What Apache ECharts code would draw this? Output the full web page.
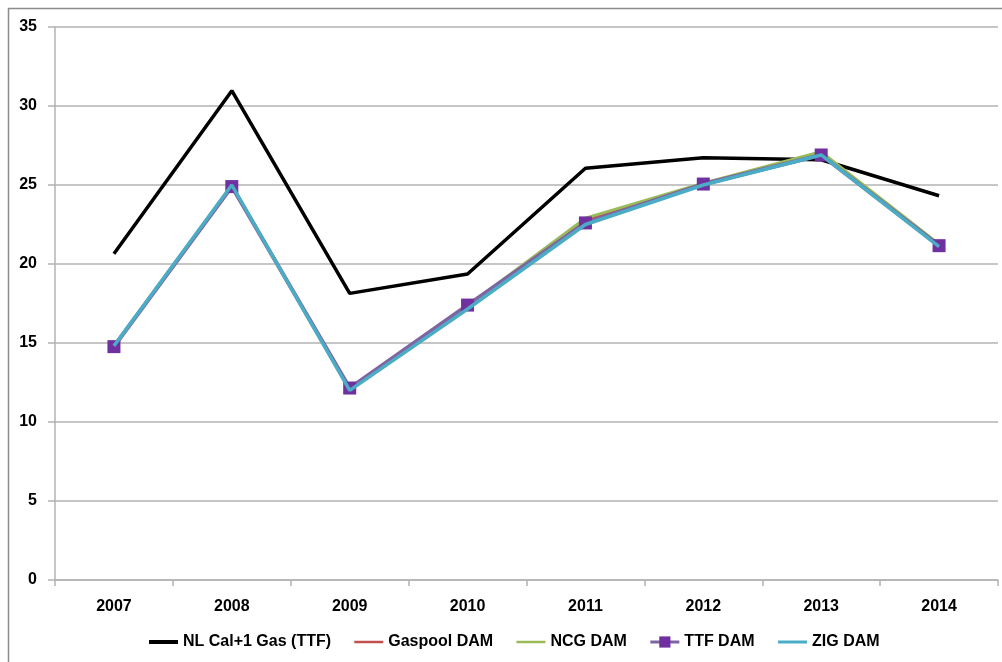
<!DOCTYPE html>
<html>
<head>
<meta charset="utf-8">
<style>
  html, body { margin: 0; padding: 0; background: #ffffff; }
  #chart { width: 1002px; height: 662px; }
</style>
<script src="https://cdn.jsdelivr.net/npm/echarts@6/dist/echarts.min.js"></script>
</head>
<body>
<div id="chart"></div>
<script>
// Annual gas prices, EUR/MWh
const years = ['2007', '2008', '2009', '2010', '2011', '2012', '2013', '2014'];
const nlCal1Gas = [20.65, 30.97, 18.14, 19.37, 26.06, 26.72, 26.6, 24.32];
const gaspoolDam = [14.8, 24.95, 12.1, 17.3, 22.8, 25.05, 27.0, 21.2];
const ncgDam = [14.8, 24.95, 12.1, 17.35, 22.9, 25.12, 27.1, 21.25];
const ttfDam = [14.77, 24.9, 12.15, 17.4, 22.6, 25.06, 26.9, 21.16];
const zigDam = [14.82, 25.0, 12.0, 17.15, 22.5, 25.0, 26.9, 21.1];
const yTicks = { min: 0, max: 35, interval: 5 };

const font = 'Liberation Sans, Arial, sans-serif';
const gridColor = '#b3b3b3';

const lineSeries = (name, data, color, width, extra) => Object.assign({
  name: name,
  type: 'line',
  data: data,
  symbol: 'none',
  lineStyle: { color: color, width: width },
  itemStyle: { color: color },
  z: 2
}, extra || {});

// legend entry drawn as a plain line (no marker)
const lineOnly = (name, color, width) => ({
  name: name,
  itemStyle: { color: 'transparent', borderWidth: 0 },
  lineStyle: { color: color, width: width }
});

const chart = echarts.init(document.getElementById('chart'));
chart.setOption({
  animation: false,
  backgroundColor: '#ffffff',
  textStyle: { fontFamily: font },
  graphic: [{
    type: 'polyline',
    shape: { points: [[8.5, 662], [8.5, 8.5], [1002, 8.5]] },
    style: { stroke: '#8c8c8c', lineWidth: 1.5, fill: null },
    silent: true
  }],
  grid: { left: 55, right: 4, top: 27, bottom: 82 },
  xAxis: {
    type: 'category',
    data: years,
    boundaryGap: true,
    axisLine: { lineStyle: { color: gridColor, width: 1.5 } },
    axisTick: { show: true, length: 6, alignWithLabel: false, lineStyle: { color: gridColor, width: 1.5 } },
    axisLabel: { color: '#000', fontWeight: 'bold', fontSize: 16, margin: 19, fontFamily: font },
    splitLine: { show: false }
  },
  yAxis: {
    type: 'value',
    min: yTicks.min,
    max: yTicks.max,
    interval: yTicks.interval,
    axisLine: { show: true, lineStyle: { color: gridColor, width: 1.5 } },
    axisTick: { show: true, length: 7, lineStyle: { color: gridColor, width: 1.5 } },
    axisLabel: { color: '#000', fontWeight: 'bold', fontSize: 16, margin: 18, fontFamily: font },
    splitLine: { show: true, lineStyle: { color: gridColor, width: 1.5 } }
  },
  legend: {
    left: 147,
    top: 634,
    padding: 0,
    itemWidth: 29,
    itemHeight: 14,
    itemGap: 22,
    textStyle: { color: '#000', fontWeight: 'bold', fontSize: 16, fontFamily: font },
    data: [
      lineOnly('NL Cal+1 Gas (TTF)', '#000000', 4),
      lineOnly('Gaspool DAM', '#c0504d', 2.5),
      lineOnly('NCG DAM', '#9bbb59', 2.5),
      { name: 'TTF DAM', lineStyle: { color: '#8064a2', width: 3 } },
      lineOnly('ZIG DAM', '#4bacc6', 3)
    ]
  },
  series: [
    lineSeries('NL Cal+1 Gas (TTF)', nlCal1Gas, '#000000', 3.5),
    lineSeries('Gaspool DAM', gaspoolDam, '#c0504d', 3),
    lineSeries('NCG DAM', ncgDam, '#9bbb59', 3),
    lineSeries('TTF DAM', ttfDam, '#8064a2', 4, {
      symbol: 'rect',
      symbolSize: 13,
      itemStyle: { color: '#7030a0' }
    }),
    lineSeries('ZIG DAM', zigDam, '#4bacc6', 3.5, { z: 3 })
  ]
});
</script>
</body>
</html>
